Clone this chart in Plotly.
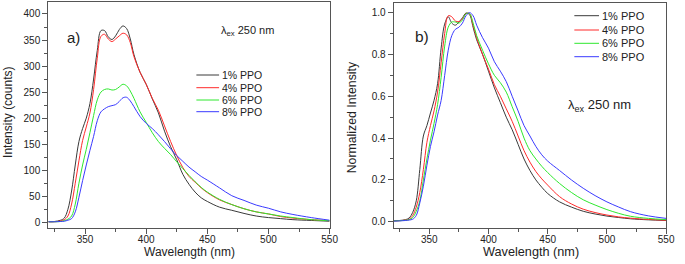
import plotly.graph_objects as go

# ---------------- data ----------------
wavelength = [320, 325, 330, 333, 336, 339, 342, 345, 348, 351, 354, 357, 360, 363, 366, 369,
              372, 375, 378, 381, 384, 387, 390, 395, 400, 405, 410, 415, 420, 425, 430, 435,
              440, 445, 450, 460, 470, 480, 490, 500, 510, 520, 535, 550]

series_names = ["1% PPO", "4% PPO", "6% PPO", "8% PPO"]

# panel a) intensity (counts)
int_1 = [1, 1.5, 4, 8, 25, 60, 110, 155, 180, 200, 228, 275, 330, 368, 368, 356,
         351, 358, 370, 377, 372, 352, 322, 288, 265, 237, 210, 175, 145, 120, 92, 73,
         58, 47, 40, 29, 23, 17, 12, 9, 7, 5, 3.5, 2]
int_4 = [1, 1, 2.5, 5, 12, 35, 75, 118, 157, 183, 210, 255, 315, 357, 361, 352,
         347, 352, 358, 363, 360, 345, 318, 288, 265, 238, 215, 185, 155, 128, 105, 88,
         77, 66, 57, 43, 34, 26, 20, 16, 11, 8, 5, 3]
int_6 = [1, 1, 1.5, 3, 6, 12, 35, 75, 110, 140, 172, 205, 235, 250, 255, 256,
         254, 255, 260, 265, 262, 252, 238, 212, 192, 172, 155, 142, 130, 116, 103, 90,
         78, 67, 58, 44, 34, 26, 20, 16, 12, 9, 5, 3]
int_8 = [1, 1, 1.5, 2, 4, 7, 20, 48, 80, 110, 138, 165, 195, 212, 218, 222,
         224, 226, 232, 239, 240, 233, 222, 203, 190, 180, 168, 155, 141, 128, 117, 106,
         97, 88, 81, 66, 51, 42, 33, 27, 20, 15, 9, 4]

# panel b) normalized intensity
norm_1 = [0.005, 0.006, 0.01, 0.018, 0.045, 0.10, 0.25, 0.41, 0.46, 0.52, 0.58, 0.66, 0.83, 0.945, 0.98, 0.95,
          0.94, 0.955, 0.975, 0.998, 0.99, 0.93, 0.87, 0.80, 0.72, 0.64, 0.57, 0.50, 0.44, 0.37, 0.30, 0.245,
          0.20, 0.165, 0.135, 0.095, 0.07, 0.05, 0.037, 0.027, 0.02, 0.014, 0.009, 0.006]
norm_4 = [0.004, 0.005, 0.008, 0.012, 0.03, 0.07, 0.14, 0.25, 0.38, 0.46, 0.53, 0.62, 0.76, 0.90, 0.985, 0.98,
          0.96, 0.957, 0.97, 0.995, 0.995, 0.94, 0.88, 0.80, 0.73, 0.655, 0.60, 0.54, 0.48, 0.41, 0.34, 0.285,
          0.24, 0.205, 0.175, 0.12, 0.085, 0.06, 0.044, 0.032, 0.023, 0.017, 0.011, 0.007]
norm_6 = [0.004, 0.005, 0.007, 0.01, 0.02, 0.05, 0.10, 0.20, 0.30, 0.39, 0.47, 0.56, 0.69, 0.84, 0.93, 0.955,
          0.955, 0.95, 0.965, 0.995, 0.995, 0.95, 0.89, 0.82, 0.755, 0.70, 0.665, 0.62, 0.55, 0.48, 0.40, 0.34,
          0.30, 0.265, 0.235, 0.183, 0.14, 0.105, 0.08, 0.058, 0.04, 0.026, 0.016, 0.01]
norm_8 = [0.003, 0.004, 0.006, 0.008, 0.012, 0.03, 0.09, 0.17, 0.27, 0.36, 0.43, 0.51, 0.58, 0.70, 0.82, 0.89,
          0.92, 0.93, 0.95, 0.985, 1.0, 0.985, 0.94, 0.88, 0.83, 0.765, 0.72, 0.67, 0.60, 0.53, 0.46, 0.41,
          0.36, 0.32, 0.29, 0.245, 0.20, 0.16, 0.125, 0.095, 0.07, 0.048, 0.028, 0.016]

x_ticks = [350, 400, 450, 500, 550]
colors = ["#3a3a3a", "#ff2a2a", "#2ee82e", "#3a3aff"]

# ---------------- figure ----------------
W, H = 685, 264
def px(x):
    return x / W
def py(y):
    return 1 - y / H

fig = go.Figure()
for name, vals, c in zip(series_names, [int_1, int_4, int_6, int_8], colors):
    fig.add_trace(go.Scatter(x=wavelength, y=vals, name=name, mode="lines",
                             line=dict(color=c, width=1, shape="spline", smoothing=1.0),
                             xaxis="x", yaxis="y", showlegend=False))
for name, vals, c in zip(series_names, [norm_1, norm_4, norm_6, norm_8], colors):
    fig.add_trace(go.Scatter(x=wavelength, y=vals, name=name, mode="lines",
                             line=dict(color=c, width=1, shape="spline", smoothing=1.0),
                             xaxis="x2", yaxis="y2", showlegend=False))

FONT = "Liberation Sans, Arial, sans-serif"
TXT = "#222222"
AX = "#555555"

common_x = dict(range=[320, 550], tickvals=x_ticks, ticks="outside", ticklen=5, tickwidth=1,
                tickcolor=AX, showline=True, linecolor=AX, linewidth=1.3, mirror=True,
                showgrid=False, zeroline=False, ticklabelstandoff=-3,
                minor=dict(ticks="outside", ticklen=3, dtick=25, tick0=0, tickcolor=AX, showgrid=False),
                tickfont=dict(family=FONT, size=10, color=TXT))
common_y = dict(ticks="outside", ticklen=5, tickwidth=1, tickcolor=AX, showline=True,
                linecolor=AX, linewidth=1.3, mirror=True, showgrid=False, zeroline=False,
                tickfont=dict(family=FONT, size=10, color=TXT))

fig.update_layout(
    width=W, height=H, margin=dict(l=0, r=0, t=0, b=0),
    paper_bgcolor="white", plot_bgcolor="white",
    xaxis=dict(domain=[px(49), px(334)], anchor="y", **common_x),
    yaxis=dict(domain=[py(228), py(2)], anchor="x", range=[-11, 423], dtick=50,
               minor=dict(ticks="outside", ticklen=3, dtick=25, tickcolor=AX, showgrid=False),
               **common_y),
    xaxis2=dict(domain=[px(399), px(675)], anchor="y2", **common_x),
    yaxis2=dict(domain=[py(228), py(3)], anchor="x2", range=[-0.03, 1.046], dtick=0.2,
                tickformat=".1f",
                minor=dict(ticks="outside", ticklen=3, dtick=0.1, tickcolor=AX, showgrid=False),
                **common_y),
)

ann = []
def text(x, y, s, size, angle=0, xanchor="left"):
    ann.append(dict(x=px(x), y=py(y), xref="paper", yref="paper", text=s, showarrow=False,
                    xanchor=xanchor, yanchor="middle", textangle=angle,
                    font=dict(family=FONT, size=size, color=TXT)))

# axis titles
text(192, 252, "Wavelength (nm)", 12, xanchor="center")
text(538, 252, "Wavelength (nm)", 12.7, xanchor="center")
text(8, 112, "Intensity (counts)", 12, angle=-90, xanchor="center")
text(357, 117, "Normalized Intensity", 12.3, angle=-90, xanchor="center")
# panel labels
text(66, 37, "a)", 15)
text(418, 36, "b)", 15.5)
text(222, 31, "λ<sub>ex</sub> 250 nm", 11)
text(574, 105, "λ<sub>ex</sub> 250 nm", 13)

# custom legends
shapes = []
leg_a_y = [75, 87.7, 100, 111.7]
leg_b_y = [15.7, 30, 43.3, 56.7]
for name, c, ya, yb in zip(series_names, colors, leg_a_y, leg_b_y):
    shapes.append(dict(type="line", xref="paper", yref="paper", x0=px(199), x1=px(222),
                       y0=py(ya), y1=py(ya), line=dict(color=c, width=1)))
    text(222.5, ya, name, 10.5)
    shapes.append(dict(type="line", xref="paper", yref="paper", x0=px(582), x1=px(607),
                       y0=py(yb), y1=py(yb), line=dict(color=c, width=1)))
    text(608, yb, name, 11)

fig.update_layout(annotations=ann, shapes=shapes)
fig.write_html("out.html", config={"displayModeBar": False},
               post_script="document.body.style.margin='0px';")
